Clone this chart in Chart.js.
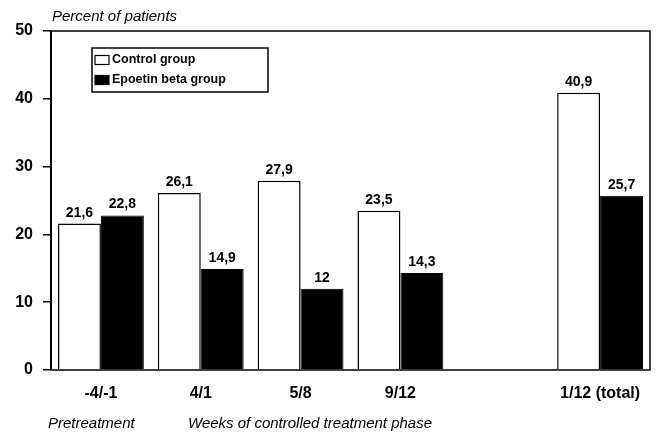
<!DOCTYPE html>
<html>
<head>
<meta charset="utf-8">
<title>Percent of patients</title>
<script src="https://cdn.jsdelivr.net/npm/chart.js@4/dist/chart.umd.min.js"></script>
<style>
  html, body { margin: 0; padding: 0; background: #fff; }
  canvas { display: block; }
</style>
</head>
<body>
<canvas id="chart" width="656" height="439"></canvas>
<script>
// Week groups on the x axis (the empty slot separates the total from the phases)
const categories = ['-4/-1', '4/1', '5/8', '9/12', '', '1/12 (total)'];
// Percent of patients per group
const controlGroup = [21.6, 26.1, 27.9, 23.5, null, 40.9];
const epoetinGroup = [22.8, 14.9, 12, 14.3, null, 25.7];
const yTicks = [0, 10, 20, 30, 40, 50];

const FONT = '"Liberation Sans", Arial, Helvetica, sans-serif';

const fmt = v => String(v).replace('.', ',');

// Box around the plot area, value labels, legend and captions
const decorations = {
  id: 'decorations',
  afterDatasetsDraw(chart) {
    const { ctx, chartArea: a } = chart;
    ctx.save();

    // frame
    ctx.strokeStyle = '#000';
    ctx.lineWidth = 1.5;
    ctx.strokeRect(a.left, a.top, a.right - a.left, a.bottom - a.top);
    ctx.lineWidth = 2;
    ctx.beginPath();
    ctx.moveTo(a.left, a.top);
    ctx.lineTo(a.left, a.bottom);
    ctx.stroke();

    // value labels above bars
    ctx.fillStyle = '#000';
    ctx.font = 'bold 14px ' + FONT;
    ctx.textAlign = 'center';
    ctx.textBaseline = 'alphabetic';
    chart.data.datasets.forEach((ds, i) => {
      chart.getDatasetMeta(i).data.forEach((bar, j) => {
        const v = ds.data[j];
        if (v === null || v === undefined) return;
        ctx.fillText(fmt(v), bar.x, bar.y - 7);
      });
    });

    // legend
    const lx = 92, ly = 48, lw = 176, lh = 44;
    ctx.lineWidth = 1.5;
    ctx.strokeRect(lx, ly, lw, lh);
    ctx.font = 'bold 12.5px ' + FONT;
    ctx.textAlign = 'left';
    ctx.textBaseline = 'middle';
    chart.data.datasets.forEach((ds, i) => {
      const cy = ly + 12 + i * 20;
      ctx.fillStyle = ds.backgroundColor;
      ctx.fillRect(lx + 3, cy - 4.5, 14, 9);
      ctx.lineWidth = 1.2;
      ctx.strokeStyle = '#000';
      ctx.strokeRect(lx + 3, cy - 4.5, 14, 9);
      ctx.fillStyle = '#000';
      ctx.fillText(ds.label, lx + 20, cy);
    });

    // captions
    ctx.font = 'italic 15px ' + FONT;
    ctx.textBaseline = 'middle';
    ctx.fillText('Percent of patients', 52, 17);
    ctx.fillText('Pretreatment', 48, 424);
    ctx.fillText('Weeks of controlled treatment phase', 188, 424);

    ctx.restore();
  }
};

new Chart(document.getElementById('chart'), {
  type: 'bar',
  data: {
    labels: categories,
    datasets: [
      {
        label: 'Control group',
        data: controlGroup,
        backgroundColor: '#ffffff',
        borderColor: '#000000',
        borderWidth: 1.5,
        borderSkipped: 'bottom'
      },
      {
        label: 'Epoetin beta group',
        data: epoetinGroup,
        backgroundColor: '#000000',
        borderColor: '#000000',
        borderWidth: 1,
        borderSkipped: 'bottom'
      }
    ]
  },
  options: {
    responsive: false,
    animation: false,
    devicePixelRatio: 1,
    layout: { padding: { top: 31, right: 6, left: 0, bottom: 0 } },
    datasets: { bar: { categoryPercentage: 0.86, barPercentage: 1.0 } },
    plugins: {
      legend: { display: false },
      tooltip: { enabled: false }
    },
    scales: {
      x: {
        grid: { display: false, drawTicks: false },
        border: { display: false },
        ticks: {
          color: '#000',
          padding: 14,
          maxRotation: 0,
          autoSkip: false,
          font: { family: FONT, size: 16, weight: 'bold' }
        },
        afterFit(s) { s.height = 69; }
      },
      y: {
        min: 0,
        max: 50,
        afterBuildTicks(s) { s.ticks = yTicks.map(v => ({ value: v })); },
        grid: {
          drawOnChartArea: false,
          drawTicks: true,
          tickLength: 8,
          color: '#000',
          lineWidth: 1.5
        },
        border: { display: false },
        ticks: {
          color: '#000',
          padding: 10,
          font: { family: FONT, size: 16, weight: 'bold' }
        },
        afterFit(s) { s.width = 51; }
      }
    }
  },
  plugins: [decorations]
});
</script>
</body>
</html>
